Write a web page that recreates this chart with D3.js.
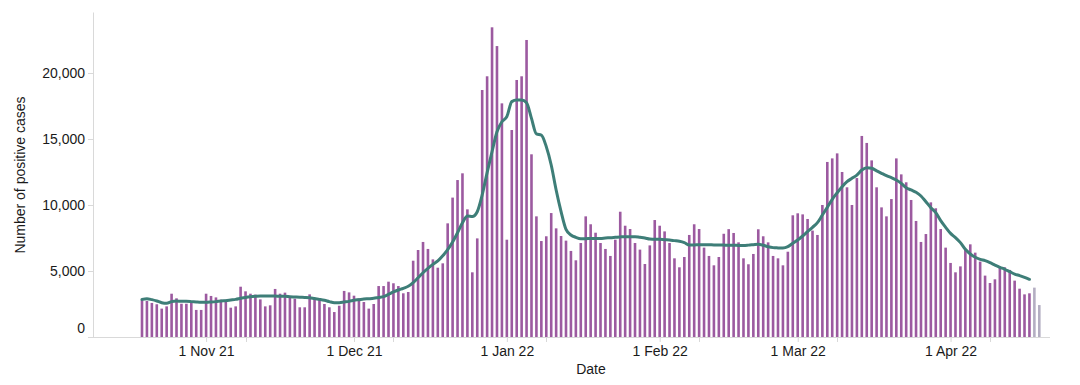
<!DOCTYPE html>
<html lang="en">
<head>
    <meta charset="UTF-8">
    <title>Positive cases</title>
    <script src="https://cdn.jsdelivr.net/npm/d3@7"></script>
    <style>
        body { margin: 0; background: #fff; }
        text { font-family: "Liberation Sans", Arial, Helvetica, sans-serif; fill: #1a1a1a; }
        .axis path, .axis line { stroke: #d9d9d9; }
        path.avg { fill: none; stroke: #3e7e78; stroke-width: 3px; stroke-linejoin: round; stroke-linecap: round; }
    </style>
</head>
<body>

<svg width="1080" height="385"></svg>

<script>
    // daily positive cases, first day 19 Oct 21
    const firstDay = "2021-10-19"
    const cases = [
        2830, 2730, 2580, 2480, 2150, 2320, 3280, 2930, 2520, 2520,
        2580, 2050, 2050, 3280, 3110, 3000, 2830, 2830, 2220, 2320,
        3810, 3460, 3280, 3210, 2850, 2320, 2400, 3640, 3280, 3360,
        3000, 2900, 2250, 2250, 3230, 2930, 2930, 2500, 2250, 1890,
        2370, 3490, 3380, 3130, 2930, 2650, 2150, 2500, 3860, 3860,
        4190, 4070, 3860, 3310, 3410, 5780, 6590, 7200, 6670, 5880,
        5250, 5580, 8610, 10560, 11890, 12400, 9670, 4900, 7470, 18710,
        19750, 23460, 22040, 17700, 7370, 15680, 19470, 19750, 22500, 13840,
        9140, 7270, 7630, 9390, 8230, 7650, 7300, 6520, 5810, 7120,
        9140, 8540, 7900, 7120, 6670, 6140, 7370, 9490, 8430, 8180,
        7120, 6620, 5530, 6940, 8860, 8430, 8000, 7120, 5960, 5280,
        6060, 7730, 8540, 8180, 6770, 6140, 5430, 6060, 7820, 8170,
        7880, 7170, 5960, 5510, 6290, 8160, 7630, 7170, 6140, 5960,
        5430, 6460, 9220, 9370, 9290, 8940, 8060, 7730, 10000, 13260,
        13530, 13910, 12500, 11340, 10000, 12040, 15230, 14700, 13380, 11340,
        9820, 9140, 10450, 13530, 12320, 11720, 10380, 8790, 7200, 7800,
        10200, 9750, 8180, 6770, 5610, 4900, 5350, 6670, 7020, 6390,
        5710, 4650, 4090, 4370, 5350, 5280, 5080, 4270, 3660, 3230,
        3310, 3740, 2420
    ]
    // last days still incomplete (drawn grey)
    const provisionalDays = 2

    // 7 day average line
    const average = [
        2850, 2900, 2830, 2730, 2600, 2550, 2680, 2730, 2700, 2700,
        2680, 2650, 2630, 2630, 2650, 2680, 2730, 2750, 2800, 2850,
        2930, 3000, 3050, 3080, 3100, 3100, 3100, 3100, 3080, 3080,
        3050, 3030, 3010, 3000, 2980, 2910, 2850, 2780, 2680, 2600,
        2600, 2650, 2700, 2780, 2830, 2880, 2900, 2930, 3000, 3060,
        3230, 3410, 3560, 3690, 3840, 4120, 4490, 4870, 5200, 5500,
        5760, 6150, 6620, 7200, 7900, 8660, 9170, 9120, 9490, 10760,
        12450, 14040, 15550, 16310, 16690, 17830, 17950, 17950, 17750, 16560,
        15380, 15300, 14420, 13030, 11140, 9500, 8150, 7730, 7550, 7450,
        7450, 7470, 7470, 7470, 7500, 7520, 7550, 7580, 7600, 7600,
        7600, 7550, 7500, 7420, 7400, 7400, 7370, 7350, 7300, 7250,
        7150, 6970, 6970, 6990, 6990, 6990, 6970, 6970, 6960, 6950,
        6950, 6940, 6940, 6960, 6990, 7020, 6950, 6840, 6770, 6750,
        6740, 6840, 7100, 7350, 7650, 7980, 8310, 8660, 9240, 9820,
        10430, 10930, 11390, 11770, 12020, 12270, 12650, 12830, 12780, 12590,
        12400, 12220, 12070, 11890, 11640, 11310, 11140, 10960, 10680, 10250,
        9800, 9420, 8810, 8310, 7850, 7530, 7150, 6640, 6290, 6040,
        5880, 5780, 5630, 5450, 5280, 5130, 4950, 4770, 4650, 4520,
        4370
    ]

    const yTicks = [0, 5000, 10000, 15000, 20000]
    const monthTicks = ["2021-11-01", "2021-12-01", "2022-01-01", "2022-02-01", "2022-03-01", "2022-04-01"]
    const minorTicks = ["2021-11-09", "2021-12-09", "2022-01-09", "2022-02-09", "2022-03-09", "2022-04-09"]

    let svg = d3.select('svg')
    let parse = d3.utcParse("%Y-%m-%d")

    let start = parse(firstDay)
    let days = d3.utcDay.range(start, d3.utcDay.offset(start, cases.length))
    let data = days.map(function (d, i) {
        return {date: d, value: cases[i], grey: i >= cases.length - provisionalDays}
    })
    let avgData = average.map(function (v, i) { return {date: days[i], value: v} })

    // scales
    let xScale = d3.scaleUtc().domain([days[0], days[days.length - 1]]).range([142, 1039.3])
    let yScale = d3.scaleLinear().domain([0, 24620]).range([337, 12])

    // x axis
    svg.append('line')
        .attr('x1', 93).attr('x2', 1050).attr('y1', 337.5).attr('y2', 337.5)
        .attr('stroke', '#d9d9d9')

    let xAxis = svg.append('g').attr('class', 'axis')
        .attr('transform', 'translate(0,337)')
        .call(d3.axisBottom(xScale)
            .tickValues(monthTicks.map(parse))
            .tickFormat(d3.utcFormat("%-d %b %y"))
            .tickSize(5).tickPadding(4))
    xAxis.select('.domain').remove()
    xAxis.selectAll('text').attr('font-size', 14)

    svg.append('g').attr('class', 'axis')
        .attr('transform', 'translate(0,337)')
        .selectAll('line').data(minorTicks.map(parse)).join('line')
        .attr('x1', function (d) { return Math.round(xScale(d)) + 0.5 })
        .attr('x2', function (d) { return Math.round(xScale(d)) + 0.5 })
        .attr('y1', 0).attr('y2', 5)

    // y axis
    let yAxis = svg.append('g').attr('class', 'axis')
        .attr('transform', 'translate(93,0)')
        .call(d3.axisLeft(yScale).tickValues(yTicks)
            .tickFormat(d3.format(","))
            .tickSize(5).tickSizeOuter(0).tickPadding(3))
    yAxis.selectAll('text').attr('font-size', 14)
    yAxis.selectAll('.tick').filter(function (d) { return d === 0 })
        .select('text').attr('dy', '-0.32em')

    // titles
    svg.append('text')
        .attr('transform', 'translate(25,175) rotate(-90)')
        .attr('text-anchor', 'middle')
        .attr('font-size', 14)
        .text('Number of positive cases')

    svg.append('text')
        .attr('x', 591).attr('y', 374)
        .attr('text-anchor', 'middle')
        .attr('font-size', 14)
        .text('Date')

    // bars
    let barW = 2.6
    svg.append('g').selectAll('rect').data(data).join('rect')
        .attr('x', function (d) { return xScale(d.date) - barW / 2 })
        .attr('width', barW)
        .attr('y', function (d) { return yScale(d.value) })
        .attr('height', function (d) { return yScale(0) - yScale(d.value) })
        .attr('fill', function (d) { return d.grey ? '#b4aec2' : '#9c5aa0' })

    // average line
    let avgLine = d3.line()
        .x(function (d) { return xScale(d.date) })
        .y(function (d) { return yScale(d.value) })
        .curve(d3.curveMonotoneX)

    svg.append('path').datum(avgData)
        .attr('class', 'avg')
        .attr('d', avgLine)
</script>

</body>
</html>
